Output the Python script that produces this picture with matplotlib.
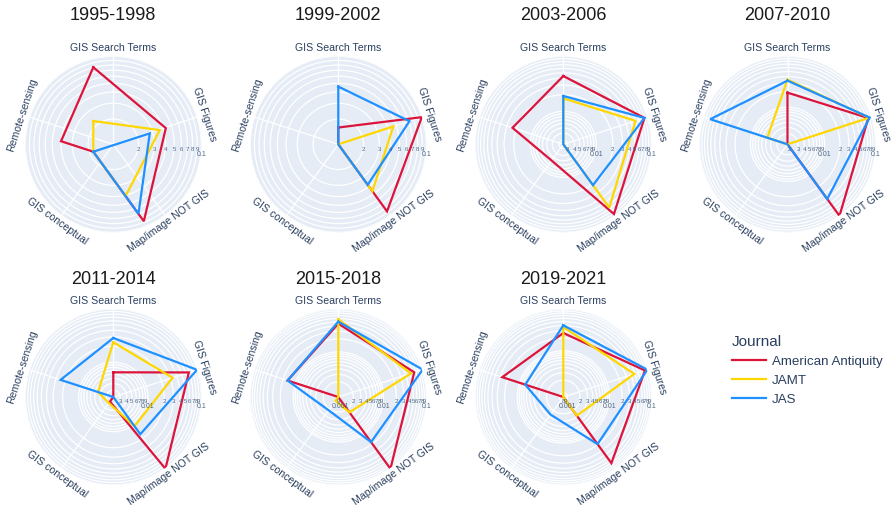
import numpy as np
import matplotlib.pyplot as plt
from matplotlib.lines import Line2D
from matplotlib.ticker import NullLocator

plt.rcParams['font.family'] = ['Liberation Sans', 'DejaVu Sans']

categories = ['GIS Search Terms', 'GIS Figures', 'Map/image NOT GIS',
              'GIS conceptual', 'Remote-sensing']
periods = ['1995-1998', '1999-2002', '2003-2006', '2007-2010',
           '2011-2014', '2015-2018', '2019-2021']
journals = ['American Antiquity', 'JAMT', 'JAS']
colors = ['crimson', 'gold', 'dodgerblue']

# share of articles per category, one row per period (columns follow categories)
american_antiquity = [
    [0.0912, 0.074, 0.0949, 0, 0.025],
    [0.0161, 0.0995, 0.0877, 0, 0],
    [0.0438, 0.0893, 0.0927, 0.0058, 0.0235],
    [0.0193, 0.0871, 0.102, 0, 0],
    [0.0065, 0.0692, 0.103, 0.00286, 0],
    [0.0456, 0.0646, 0.104, 0, 0.0156],
    [0.0267, 0.0891, 0.0711, 0, 0.027],
]
jamt = [
    [0.023, 0.0628, 0.0428, 0, 0],
    [0, 0.0461, 0.0463, 0, 0],
    [0.0172, 0.0603, 0.0664, 0, 0],
    [0.0347, 0.0912, 0, 0, 0.00487],
    [0.0238, 0.033, 0.0106, 0.0031, 0.00447],
    [0.0577, 0.0536, 0.00246, 0.00115, 0],
    [0.0372, 0.0479, 0.00282, 0, 0],
]
jas = [
    [0, 0.048, 0.075, 0, 0],
    [0.046, 0.0713, 0.0378, 0, 0],
    [0.019, 0.0893, 0.0208, 0, 0],
    [0.0332, 0.0931, 0.0398, 0, 0.0736],
    [0.0286, 0.1, 0.0163, 0, 0.0245],
    [0.0507, 0.104, 0.0177, 0.00215, 0.0156],
    [0.0408, 0.102, 0.0195, 0.00262, 0.00716],
]
series = [american_antiquity, jamt, jas]

# log10 range of the radial axis in each panel
radial_range = [(-1.98, -1), (-1.98, -1), (-2.6, -1), (-2.73, -1),
                (-2.65, -1), (-3.05, -1), (-3.1, -1)]

W, H = 893, 507
R = 88
col_x = [113.3, 338.3, 563.3, 787.5]
row_y = [144.3, 397.0]
title_y = [15.5, 279]
FONT_C = '#2a3f5f'

fig = plt.figure(figsize=(W / 100, H / 100), dpi=100)
theta = np.deg2rad(np.arange(len(categories)) * 360 / len(categories))
theta_closed = np.append(theta, theta[0])


def polar_at(cx, cy):
    return fig.add_axes([(cx - R) / W, (H - cy - R) / H, 2 * R / W, 2 * R / H],
                        projection='polar')


def setup(ax, lo, hi):
    ax.set_theta_zero_location('N')
    ax.set_theta_direction(-1)
    ax.set_rscale('log')
    ax.set_rlim(10 ** lo, 10 ** hi)
    ax.yaxis.set_minor_locator(NullLocator())


def draw_traces(ax, i, lo):
    for vals, c in zip(series, colors):
        r = np.clip(np.array(vals[i], dtype=float), 10 ** lo, None)
        ax.plot(theta_closed, np.append(r, r[0]), color=c, lw=1.6,
                solid_joinstyle='miter')


for i, period in enumerate(periods):
    lo, hi = radial_range[i]
    cx, cy = col_x[i % 4], row_y[i // 4]
    ax = polar_at(cx, cy)
    setup(ax, lo, hi)
    ax.set_facecolor('#E5ECF6')
    ax.spines['polar'].set_visible(False)

    # gridline at every 1..9 step of each decade inside the range
    ticks = [m * 10.0 ** d for d in range(int(np.floor(lo)), int(np.ceil(hi)) + 1)
             for m in range(1, 10) if lo <= np.log10(m * 10.0 ** d) <= hi + 1e-9]
    ax.set_rticks(ticks)
    ax.set_yticklabels([])
    ax.set_thetagrids(np.rad2deg(theta), labels=[''] * len(theta))
    ax.grid(color='white', lw=0.9)
    ax.tick_params(length=0)

    for t in ticks:
        m = int(round(t / 10 ** np.floor(np.log10(t) + 1e-9)))
        if m == 1:
            lab, off, fs = f'{t:g}', -7.0, 5.0
        else:
            lab, off, fs = str(m), -3.4, 4.3
        ax.annotate(lab, xy=(np.pi / 2, t), xytext=(0, off), textcoords='offset points',
                    ha='center', va='center', fontsize=fs, color='#506784',
                    annotation_clip=False)

    for th, cat in zip(theta, categories):
        a = 90 - np.rad2deg(th)
        a = (a + 180) % 360 - 180
        lower = np.sin(np.deg2rad(a)) < -1e-6
        rot = a + 90 if lower else a - 90
        gap = 5.0 if lower else 5.8
        ax.annotate(cat, xy=(th, 10 ** hi),
                    xytext=(gap * np.cos(np.deg2rad(a)), gap * np.sin(np.deg2rad(a))),
                    textcoords='offset points', ha='center', va='center',
                    rotation=rot, rotation_mode='anchor', fontsize=7.6,
                    color=FONT_C, annotation_clip=False)

    if i == 0:
        # first period's traces sit on their own axes, offset from the grid
        ax_tr = polar_at(cx - 20, cy + 7.4)
        setup(ax_tr, lo, hi)
        ax_tr.set_axis_off()
        draw_traces(ax_tr, i, lo)
    else:
        draw_traces(ax, i, lo)

    fig.text(cx / W, 1 - title_y[i // 4] / H, period, ha='center', va='center',
             fontsize=13, color='#1a1a1a')

handles = [Line2D([], [], color=c, lw=1.6) for c in colors]
leg = fig.legend(handles, journals, title='Journal', loc='upper left',
                 bbox_to_anchor=(732 / W, 1 - 335 / H), frameon=False,
                 fontsize=9.6, title_fontsize=11, handlelength=2.55,
                 handletextpad=0.45, labelspacing=0.5, alignment='left',
                 borderaxespad=0, borderpad=0)
leg.get_title().set_color(FONT_C)
for txt in leg.get_texts():
    txt.set_color(FONT_C)

fig.savefig('out.png', dpi=100, facecolor='white')
